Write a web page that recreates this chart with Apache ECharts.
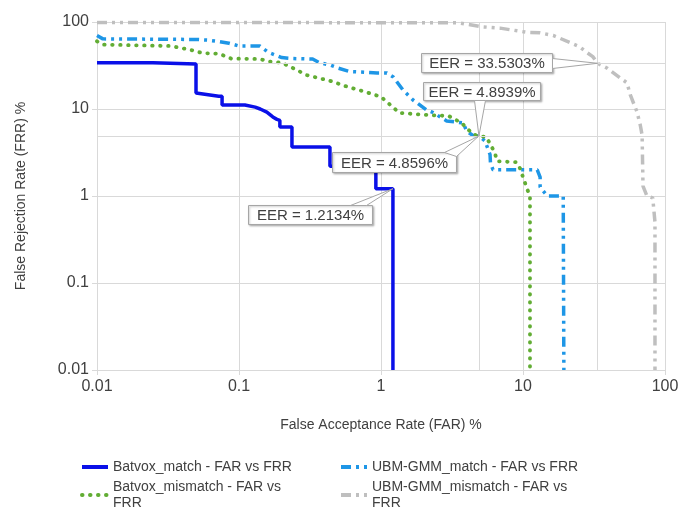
<!DOCTYPE html>
<html>
<head>
<meta charset="utf-8">
<script src="https://cdn.jsdelivr.net/npm/echarts@6/dist/echarts.min.js"></script>
<style>
  html, body { margin: 0; padding: 0; background: #fff; }
  #chart { width: 685px; height: 511px; }
</style>
</head>
<body>
<div id="chart"></div>
<script>
// Axis ticks (log scale, percent)
const farTicks = [0.01, 0.1, 1, 10, 100];
const frrTicks = [0.01, 0.1, 1, 10, 100];

const seriesNames = [
  'Batvox_match - FAR vs FRR',
  'Batvox_mismatch - FAR vs FRR',
  'UBM-GMM_match - FAR vs FRR',
  'UBM-GMM_mismatch - FAR vs FRR'
];

// [FAR %, FRR %] pairs for each DET curve
const batvoxMatch = [
  [0.01, 34], [0.0248, 34], [0.0248, 33], [0.0498, 33], [0.0498, 15.3],
  [0.072, 14], [0.076, 14], [0.076, 11.1], [0.11, 11.1], [0.13, 10.5],
  [0.141, 10], [0.157, 9.2], [0.173, 8.1], [0.185, 7.6], [0.194, 7.4],
  [0.194, 6.2], [0.236, 6.2], [0.236, 3.65], [0.437, 3.65], [0.437, 2.2],
  [0.92, 2.2], [0.92, 1.2134], [1.2134, 1.2134], [1.2134, 0.01]
];

const batvoxMismatch = [
  [0.01, 60], [0.011, 55], [0.033, 53], [0.045, 48], [0.055, 44],
  [0.073, 43], [0.088, 38], [0.14, 37.5], [0.165, 35], [0.2, 34],
  [0.24, 29.5], [0.3, 24.5], [0.44, 21], [0.58, 18], [0.75, 16],
  [1.0, 13.8], [1.35, 9], [2.2, 8.5], [3.0, 8.3], [3.7, 6.9],
  [4.4, 5.2], [4.8596, 4.8596], [5.5, 4.8], [5.9, 3.9], [6.3, 3.2],
  [6.6, 2.5], [9.0, 2.45], [9.5, 2.1], [10, 1.65], [10.7, 1.2],
  [11.2, 1.0], [11.2, 0.01]
];

const ubmMatch = [
  [0.01, 70], [0.011, 64], [0.05, 63], [0.06, 62], [0.07, 60],
  [0.085, 57], [0.1, 53], [0.14, 53], [0.16, 45], [0.2, 39],
  [0.24, 38], [0.33, 37.5], [0.37, 34], [0.44, 32], [0.5, 29.5],
  [0.6, 27], [0.94, 26], [1.1, 26], [1.22, 23.3], [1.43, 16.5],
  [1.68, 12.7], [2.1, 9.7], [2.3, 9.2], [2.9, 7.3], [3.8, 6.9],
  [4.0, 5.6], [4.4, 5.0], [4.8939, 4.8939], [5.4, 4.3], [5.86, 3.0],
  [5.9, 2.4], [6.15, 2.0], [12.6, 2.0], [13.2, 1.65], [13.2, 1.27],
  [14.8, 1.0], [19.2, 1.0], [19.4, 0.01]
];

const ubmMismatch = [
  [0.01, 99], [3.5, 98], [5.2, 88], [6.9, 85], [10.7, 76],
  [13.2, 75], [16.3, 70], [18.2, 65], [21.4, 58], [25, 52],
  [28, 45], [31, 40], [33.5303, 33.5303], [39, 29.6], [48, 23],
  [54, 20], [57, 14.5], [63.6, 9.2], [67, 6.5], [69, 5.0],
  [69.5, 2.5], [70, 1.3], [74.6, 1.0], [82, 0.95], [85, 0.5], [85, 0.01]
];

// Equal error rates (FAR = FRR) of each system
const eerValues = [1.2134, 4.8596, 4.8939, 33.5303];
// Guide lines through the two UBM-GMM equal error rates
const eerGuides = [4.8939, 33.5303];

// Callout box placement relative to its EER point (pixels)
const calloutLayout = [
  { dx: -145, dy: 16, w: 124, h: 19, base: [[102, 0], [118, 0]] },
  { dx: -146, dy: 16, w: 124, h: 20, base: [[112, 0], [124, 4]] },
  { dx: -56, dy: -54, w: 117, h: 18, base: [[51, 18], [62, 18]] },
  { dx: -177, dy: -10, w: 131, h: 19, base: [[131, 5], [131, 15]] }
];

// Legend slots: [left, top] of each entry
const legendSlots = [[80, 459], [80, 479], [339, 459], [339, 479]];

const legendText = {
  'Batvox_mismatch - FAR vs FRR': 'Batvox_mismatch - FAR vs\nFRR',
  'UBM-GMM_mismatch - FAR vs FRR': 'UBM-GMM_mismatch - FAR vs\nFRR'
};

const FONT = '"Liberation Sans", Arial, sans-serif';
const TEXT = '#404040';
const GRID = '#d9d9d9';
const dashDotDot = [10, 5, 3, 5, 3, 5];

function fmt(v) {
  return String(+v.toPrecision(6));
}

function renderCallout(params, api) {
  const v = api.value(0);
  const p = api.coord([v, api.value(1)]);
  const L = calloutLayout[params.dataIndex];
  const bx = Math.round(p[0] + L.dx) + 0.5;
  const by = Math.round(p[1] + L.dy) + 0.5;
  const b1 = [bx + L.base[0][0], by + L.base[0][1]];
  const b2 = [bx + L.base[1][0], by + L.base[1][1]];
  return {
    type: 'group',
    children: [
      {
        type: 'rect',
        shape: { x: bx, y: by, width: L.w, height: L.h },
        style: {
          fill: '#fff', stroke: '#a6a6a6', lineWidth: 1,
          shadowColor: 'rgba(0,0,0,0.25)', shadowBlur: 2,
          shadowOffsetX: 1, shadowOffsetY: 1
        }
      },
      {
        type: 'polygon',
        shape: { points: [b1, p, b2] },
        style: { fill: '#fff', stroke: '#a6a6a6', lineWidth: 1 }
      },
      {
        type: 'text',
        style: {
          text: 'EER = ' + v.toFixed(4) + '%',
          x: bx + L.w / 2, y: by + L.h / 2 + 1,
          align: 'center', verticalAlign: 'middle',
          font: '15px ' + FONT, fill: TEXT
        }
      }
    ]
  };
}

const chart = echarts.init(document.getElementById('chart'), null, { renderer: 'canvas' });

const lineBase = {
  type: 'line',
  showSymbol: false,
  symbol: 'none',
  silent: true,
  animation: false
};

chart.setOption({
  animation: false,
  backgroundColor: '#fff',
  textStyle: { fontFamily: FONT },
  grid: { left: 97, right: 20, top: 22, bottom: 141 },
  xAxis: {
    type: 'log',
    logBase: 10,
    min: farTicks[0],
    max: farTicks[farTicks.length - 1],
    name: 'False Acceptance Rate (FAR) %',
    nameLocation: 'middle',
    nameGap: 48,
    nameTextStyle: { color: TEXT, fontSize: 14, fontFamily: FONT },
    axisLine: { show: true, lineStyle: { color: GRID } },
    axisTick: { show: true, length: 5, lineStyle: { color: GRID } },
    minorTick: { show: false },
    axisLabel: {
      color: TEXT, fontSize: 16, fontFamily: FONT, margin: 9,
      formatter: fmt
    },
    splitLine: { show: true, lineStyle: { color: GRID, width: 1 } }
  },
  yAxis: {
    type: 'log',
    logBase: 10,
    min: frrTicks[0],
    max: frrTicks[frrTicks.length - 1],
    name: 'False Rejection Rate (FRR) %',
    nameLocation: 'middle',
    nameGap: 69,
    nameRotate: 90,
    nameTextStyle: { color: TEXT, fontSize: 14, fontFamily: FONT },
    axisLine: { show: true, lineStyle: { color: GRID } },
    axisTick: { show: true, length: 5, lineStyle: { color: GRID } },
    axisLabel: {
      color: TEXT, fontSize: 16, fontFamily: FONT, margin: 8,
      formatter: fmt
    },
    splitLine: { show: true, lineStyle: { color: GRID, width: 1 } }
  },
  legend: seriesNames.map((n, i) => ({
    left: legendSlots[i][0],
    top: legendSlots[i][1],
    padding: 0,
    itemWidth: 26,
    itemHeight: 12,
    data: [n],
    itemStyle: { opacity: 0 },
    lineStyle: { width: 4 },
    formatter: name => legendText[name] || name,
    textStyle: { color: TEXT, fontSize: 14, fontFamily: FONT, lineHeight: 16 }
  })),
  series: [
    Object.assign({}, lineBase, {
      name: seriesNames[3],
      data: ubmMismatch,
      z: 2,
      color: '#bfbfbf',
      lineStyle: { color: '#bfbfbf', width: 3.5, type: dashDotDot, cap: 'butt' },
      markLine: {
        silent: true,
        symbol: 'none',
        label: { show: false },
        lineStyle: { color: GRID, width: 1, type: 'solid' },
        data: eerGuides.flatMap(v => [{ xAxis: v }, { yAxis: v }])
      }
    }),
    Object.assign({}, lineBase, {
      name: seriesNames[2],
      data: ubmMatch,
      z: 3,
      color: '#1e96e6',
      lineStyle: { color: '#1e96e6', width: 3.5, type: dashDotDot, cap: 'butt' }
    }),
    Object.assign({}, lineBase, {
      name: seriesNames[1],
      data: batvoxMismatch,
      z: 4,
      color: '#62ad34',
      lineStyle: { color: '#62ad34', width: 3.8, type: [0.5, 7.5], cap: 'round' }
    }),
    Object.assign({}, lineBase, {
      name: seriesNames[0],
      data: batvoxMatch,
      z: 5,
      color: '#0a10e8',
      lineStyle: { color: '#0a10e8', width: 3.5, type: 'solid' }
    }),
    {
      type: 'custom',
      name: 'EER',
      coordinateSystem: 'cartesian2d',
      clip: false,
      silent: true,
      z: 10,
      data: eerValues.map(v => [v, v]),
      renderItem: renderCallout
    }
  ]
});
</script>
</body>
</html>
